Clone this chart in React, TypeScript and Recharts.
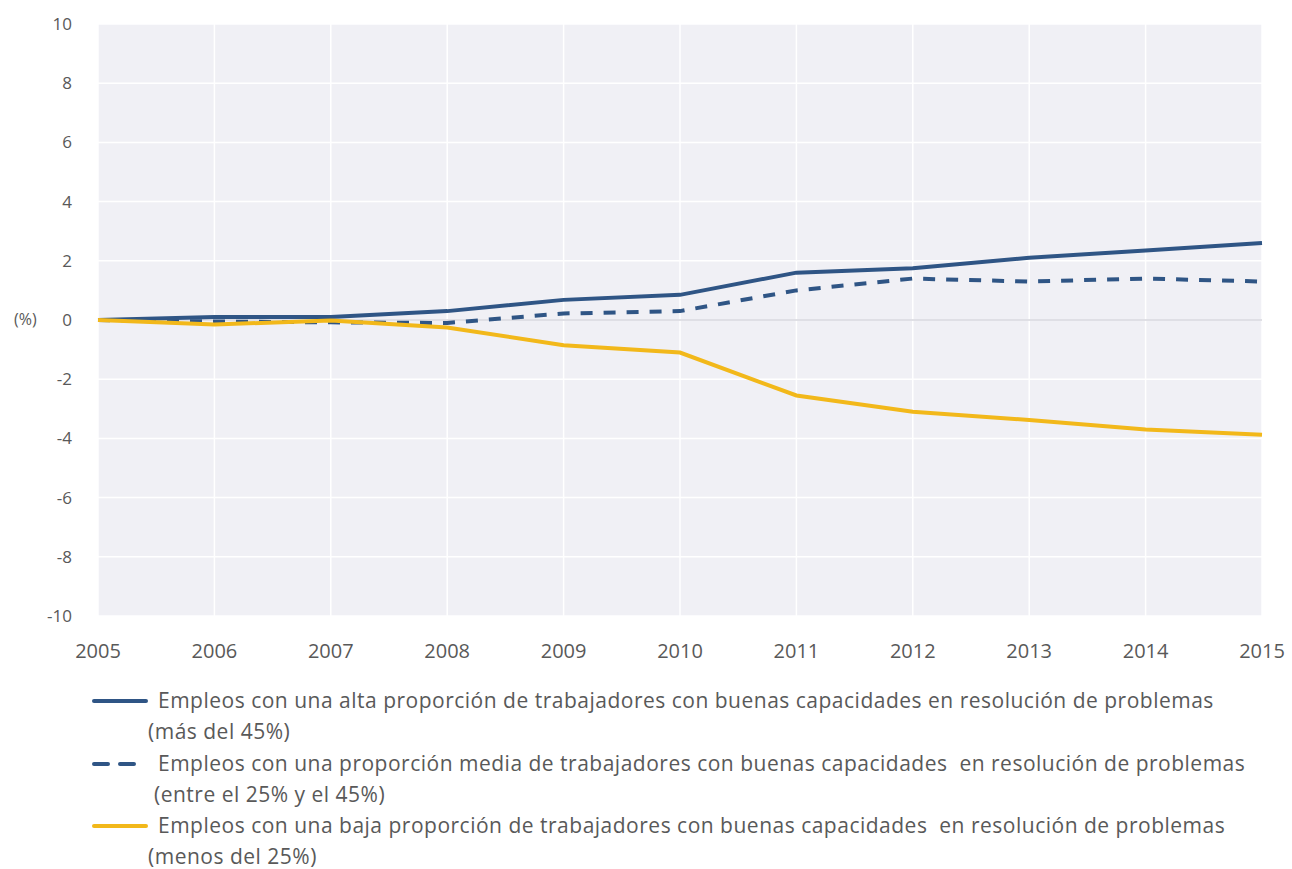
import React from "react";
import {
  LineChart,
  Line,
  XAxis,
  YAxis,
  CartesianGrid,
  ReferenceLine,
} from "recharts";

const years = ["2005", "2006", "2007", "2008", "2009", "2010", "2011", "2012", "2013", "2014", "2015"];
const alta = [0, 0.1, 0.1, 0.3, 0.68, 0.85, 1.6, 1.75, 2.1, 2.35, 2.6];
const media = [0, -0.05, -0.08, -0.1, 0.22, 0.3, 1.0, 1.4, 1.3, 1.4, 1.3];
const baja = [0, -0.15, -0.02, -0.25, -0.85, -1.1, -2.55, -3.1, -3.38, -3.7, -3.88];
const yTicks = [-10, -8, -6, -4, -2, 0, 2, 4, 6, 8, 10];

const legendLabels = [
  ["Empleos con una alta proporción de trabajadores con buenas capacidades en resolución de problemas", "(más del 45%)"],
  ["Empleos con una proporción media de trabajadores con buenas capacidades  en resolución de problemas", " (entre el 25% y el 45%)"],
  ["Empleos con una baja proporción de trabajadores con buenas capacidades  en resolución de problemas", "(menos del 25%)"],
];

const BLUE = "#2f5585";
const YELLOW = "#f2b81a";
const TEXT = "#595959";
const FONT = "'Open Sans', sans-serif";

const data = years.map((y, i) => ({
  year: y,
  alta: alta[i],
  media: media[i],
  baja: baja[i],
}));

function LegendRow({ dashed, color, lines, top }: { dashed?: boolean; color: string; lines: string[]; top: number }) {
  return (
    <div style={{ position: "absolute", left: 92, top }}>
      <svg width={56} height={10} style={{ position: "absolute", left: 0, top: 10 }}>
        <line
          x1={2}
          y1={5}
          x2={54}
          y2={5}
          stroke={color}
          strokeWidth={4}
          strokeLinecap="round"
          strokeDasharray={dashed ? "14 12" : undefined}
        />
      </svg>
      <div style={{ position: "absolute", left: 66, top: -1, whiteSpace: "pre", fontSize: 21, color: TEXT, lineHeight: "31px", fontFamily: FONT, letterSpacing: 0.5 }}>
        {lines[0]}
        {"\n"}
        <span style={{ marginLeft: -10 }}>{lines[1]}</span>
      </div>
    </div>
  );
}

export default function App() {
  return (
    <div style={{ position: "absolute", left: 0, top: 0, width: 1292, height: 869, background: "#fff", fontFamily: FONT }}>
      <LineChart
        width={1292}
        height={680}
        data={data}
        margin={{ top: 24, right: 30, left: 0, bottom: 14 }}
      >
        <CartesianGrid fill="#f0f0f5" stroke="#ffffff" strokeWidth={1.5} />
        <XAxis
          dataKey="year"
          axisLine={false}
          tickLine={false}
          tick={{ fill: TEXT, fontSize: 20, fontFamily: FONT }}
          tickMargin={22}
          height={50}
        />
        <YAxis
          domain={[-10, 10]}
          ticks={yTicks}
          axisLine={false}
          tickLine={false}
          width={98}
          tick={{ fill: TEXT, fontSize: 17, fontFamily: FONT }}
          tickMargin={20}
        />
        <ReferenceLine y={0} stroke="#d6d6dc" strokeWidth={1.5} />
        <Line dataKey="alta" stroke={BLUE} strokeWidth={4} dot={false} isAnimationActive={false} />
        <Line dataKey="media" stroke={BLUE} strokeWidth={4} strokeDasharray="12 11" dot={false} isAnimationActive={false} />
        <Line dataKey="baja" stroke={YELLOW} strokeWidth={4} dot={false} isAnimationActive={false} />
      </LineChart>
      <div style={{ position: "absolute", left: 14, top: 308, fontSize: 16, color: TEXT }}>(%)</div>
      <LegendRow color={BLUE} lines={legendLabels[0]} top={686} />
      <LegendRow color={BLUE} dashed lines={legendLabels[1]} top={749} />
      <LegendRow color={YELLOW} lines={legendLabels[2]} top={811} />
    </div>
  );
}
